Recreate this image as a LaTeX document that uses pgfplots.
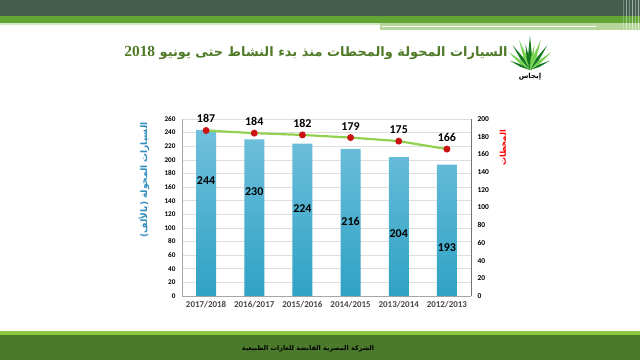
\documentclass[border=0pt]{standalone}
\usepackage{pgfplots}
\pgfplotsset{compat=1.18}
\usepackage{fontspec}
\setmainfont{Carlito}
\newfontfamily\arabicfont[Script=Arabic]{DejaVu Sans}
\newfontfamily\serifb{Liberation Serif}
\TeXXeTstate=1
\definecolor{topdark}{RGB}{68,95,80}
\definecolor{topgreen}{RGB}{99,165,53}
\definecolor{palegreen}{RGB}{181,213,155}
\definecolor{footgreen}{RGB}{75,122,44}
\definecolor{footline}{RGB}{141,198,63}
\definecolor{titlegreen}{RGB}{79,122,39}
\definecolor{bartop}{RGB}{112,192,220}
\definecolor{barbot}{RGB}{47,162,196}
\definecolor{linegreen}{RGB}{146,208,80}
\definecolor{dotred}{RGB}{200,20,20}
\definecolor{axblue}{RGB}{46,140,190}
\definecolor{gridgray}{RGB}{222,222,222}
\definecolor{leafdark}{RGB}{20,120,30}
\definecolor{leaflight}{RGB}{120,210,80}
\begin{document}
\begin{tikzpicture}[x=1bp,y=1bp]
\path[use as bounding box] (0,0) rectangle (640,360);
\fill[white] (0,0) rectangle (640,360);
\coordinate (A) at (182,64);
% top band
\fill[topdark] (0,344) rectangle (640,360);
\fill[topgreen] (0,337) rectangle (640,344);
\fill[palegreen!60!white] (0,335) rectangle (380,337);
\fill[palegreen] (380,330) rectangle (640,337);
\fill[white] (382,332.8) rectangle (596,334);
\foreach \xx/\op in {623/0.25,626/0.45,629/0.3,632/0.5,635/0.35,638/0.5} \fill[white,opacity=\op] (\xx,330) rectangle ++(1.2,30);
% footer
\fill[footline] (0,25) rectangle (640,29);
\fill[footgreen] (0,0) rectangle (640,25);
\node[font=\arabicfont\bfseries\fontsize{6.5}{7}\selectfont] at (308,11) {\beginR الشركة المصرية القابضة للغازات الطبيعية\endR};
% title
\node[text=titlegreen, font=\arabicfont\bfseries\fontsize{13}{15}\selectfont] at (316,307) {\beginR السيارات المحولة والمحطات منذ بدء النشاط حتى يونيو \beginL{\serifb\bfseries\fontsize{15.5}{16}\selectfont 2018}\endL\endR};
% logo
\foreach \a/\L/\c in {25/22/leafdark,40/28/leaflight,55/30/leafdark,70/32/leaflight,90/34/leafdark,110/32/leaflight,125/30/leafdark,140/28/leaflight,155/22/leafdark,80/26/leaflight,100/26/leafdark}
  \fill[\c] (530,290) -- +(\a+7:\L*0.45) -- +(\a:\L) -- +(\a-7:\L*0.45) -- cycle;
\node[font=\arabicfont\bfseries\fontsize{7}{8}\selectfont] at (530,283) {\beginR إيجاس\endR};
% axis labels
\node[rotate=90, text=axblue, font=\arabicfont\bfseries\fontsize{9}{10}\selectfont] at (144,180) {\beginR السيارات المحولة (بالألف)\endR};
\node[rotate=90, text=red, font=\arabicfont\bfseries\fontsize{8}{9}\selectfont] at (503,212) {\beginR المحطات\endR};
\begin{axis}[
  at={(A)}, anchor=south west,
  scale only axis, width=289bp, height=177bp,
  xmin=-0.5, xmax=5.5, ymin=0, ymax=260,
  xtick={0,...,5},
  xticklabels={2017/2018,2016/2017,2015/2016,2014/2015,2013/2014,2012/2013},
  ytick={0,20,...,260},
  axis x line*=bottom, axis y line*=left,
  axis line style={-, draw=black!35},
  major tick length=0,
  ymajorgrids, grid style={gridgray, line width=0.6bp},
  /pgf/number format/assume math mode=true,
  yticklabel style={font=\bfseries\fontsize{7.2}{8}\selectfont, xshift=-3bp},
  xticklabel style={font=\bfseries\fontsize{9}{10}\selectfont, text=black!72, yshift=-2bp},
  clip=false,
]
\addplot[ybar, bar width=20bp, draw=none, top color=bartop, bottom color=barbot]
  coordinates {(0,244)(1,230)(2,224)(3,216)(4,204)(5,193)};
\addplot[draw=none, mark=none, nodes near coords, point meta=explicit symbolic,
  every node near coord/.append style={anchor=center, font=\bfseries\fontsize{12}{13}\selectfont, text=black}]
  coordinates {(0,169)[244] (1,153)[230] (2,129)[224] (3,110)[216] (4,91)[204] (5,70.5)[193]};
\end{axis}
\begin{axis}[
  at={(A)}, anchor=south west,
  scale only axis, width=289bp, height=177bp,
  xmin=-0.5, xmax=5.5, ymin=0, ymax=200,
  axis x line=none, axis y line*=right,
  ytick={0,20,...,200},
  axis line style={-, draw=black!55},
  major tick length=0,
  /pgf/number format/assume math mode=true,
  yticklabel style={font=\bfseries\fontsize{7.5}{8}\selectfont, xshift=3bp},
  clip=false,
]
\addplot[linegreen, line width=2.2bp, mark=*, mark size=2.3bp,
  mark options={fill=dotred, draw=dotred},
  nodes near coords,
  every node near coord/.append style={font=\bfseries\fontsize{12}{13}\selectfont, text=black, yshift=3bp}]
  coordinates {(0,187)(1,184)(2,182)(3,179)(4,175)(5,166)};
\end{axis}
\end{tikzpicture}
\end{document}
